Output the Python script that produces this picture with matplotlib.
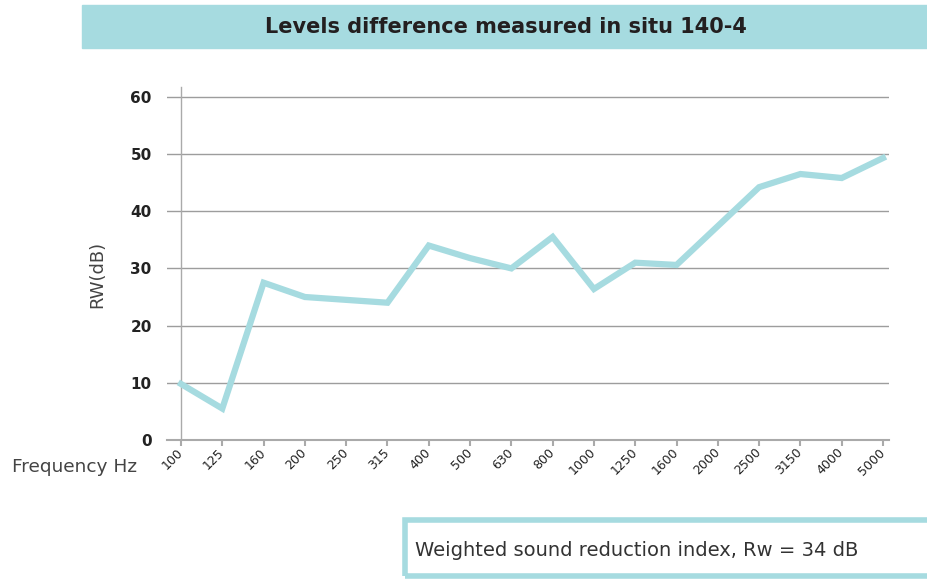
import matplotlib.pyplot as plt
import matplotlib.transforms as mtransforms
from matplotlib.patches import Rectangle

freqs = ['100', '125', '160', '200', '250', '315', '400', '500', '630', '800',
         '1000', '1250', '1600', '2000', '2500', '3150', '4000', '5000']
rw_db = [9.8, 5.5, 27.5, 25.0, 24.5, 24.0, 34.0, 31.8, 30.0, 35.5,
         26.4, 31.0, 30.6, 37.4, 44.2, 46.5, 45.8, 49.3]
y_ticks = [0, 10, 20, 30, 40, 50, 60]

title = 'Levels difference measured in situ 140-4'
note = 'Weighted sound reduction index, Rw = 34 dB'

teal = '#a6dbe0'
grid_col = '#9d9d9d'
font = 'DejaVu Sans'

fig = plt.figure(figsize=(9.28, 5.8), dpi=100)
W, H = 928, 580

# title band
fig.patches.append(Rectangle((82 / W, 1 - 48 / H), 1 - 82 / W, 43 / H,
                             transform=fig.transFigure, color=teal, zorder=0))
fig.text(506 / W, 1 - 27 / H, title, ha='center', va='center', fontsize=15,
         fontweight='bold', color='#231f20', family=font)

ax = fig.add_axes([167 / W, 140 / H, 722 / W, 62 * 5.72 / H])
x = list(range(len(freqs)))
ax.plot(x, rw_db, color=teal, lw=4.5, solid_joinstyle='miter', zorder=3)

ax.set_xlim(-14 / 41.3, 17 + 6 / 41.3)
ax.set_ylim(0, 62)
ax.set_yticks(y_ticks)
ax.set_yticklabels([str(v) for v in y_ticks], fontsize=11, fontweight='bold',
                   color='#222222', family=font)
ax.tick_params(axis='y', length=0, pad=11)
for v in y_ticks[1:]:
    ax.axhline(v, color=grid_col, lw=1, zorder=1)
ax.axvline(0, ymin=0, ymax=61.7 / 62, color='#aaaaaa', lw=1, zorder=2)

ax.set_xticks(x)
ax.set_xticklabels(freqs, rotation=45, ha='right', va='center',
                   rotation_mode='anchor', fontsize=9, color='#222222', family=font)
off = mtransforms.ScaledTranslation(8 / 100, -10 / 100, fig.dpi_scale_trans)
for lab in ax.get_xticklabels():
    lab.set_transform(lab.get_transform() + off)
ax.tick_params(axis='x', length=4, width=1.5, color='#aaaaaa', direction='out')

for s in ['top', 'right', 'left']:
    ax.spines[s].set_visible(False)
ax.spines['bottom'].set_color('#aaaaaa')
ax.spines['bottom'].set_linewidth(1.5)

fig.text(97 / W, 1 - 274 / H, 'RW(dB)', rotation=90, ha='center', va='center',
         fontsize=13, color='#444444', family=font)
fig.text(12 / W, 1 - 467 / H, 'Frequency Hz', ha='left', va='center',
         fontsize=13.3, color='#444444', family=font)

# result box, runs past the right edge
fig.patches.append(Rectangle((405 / W, 1 - 576 / H), 600 / W, 56 / H,
                             transform=fig.transFigure, fill=False,
                             edgecolor=teal, lw=4, zorder=0))
fig.text(415 / W, 1 - 550 / H, note, ha='left', va='center', fontsize=14,
         color='#333333', family=font)

fig.savefig('out.png', dpi=100)
